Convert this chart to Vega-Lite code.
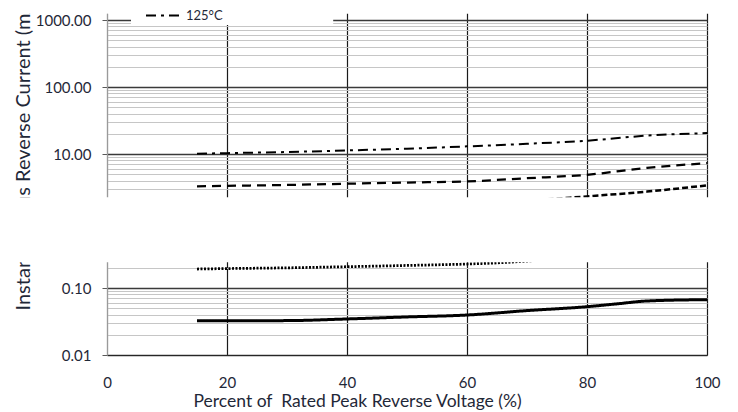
{
  "$schema": "https://vega.github.io/schema/vega-lite/v6.json",
  "width": 600,
  "height": 342,
  "autosize": {"type": "none"},
  "padding": {"left": 107, "top": 13, "right": 31, "bottom": 57},
  "background": "white",
  "config": {"view": {"stroke": null}, "font": "Lato"},
  "datasets": {
    "curves": [
      {"temp": "125°C", "pct": 15, "current": 10.1},
      {"temp": "125°C", "pct": 20, "current": 10.3},
      {"temp": "125°C", "pct": 30, "current": 10.7},
      {"temp": "125°C", "pct": 40, "current": 11.3},
      {"temp": "125°C", "pct": 50, "current": 12.0},
      {"temp": "125°C", "pct": 60, "current": 13.0},
      {"temp": "125°C", "pct": 70, "current": 14.2},
      {"temp": "125°C", "pct": 80, "current": 15.8},
      {"temp": "125°C", "pct": 90, "current": 18.8},
      {"temp": "125°C", "pct": 100, "current": 20.5},
      {"temp": "100°C", "pct": 15, "current": 3.3},
      {"temp": "100°C", "pct": 20, "current": 3.35},
      {"temp": "100°C", "pct": 30, "current": 3.45},
      {"temp": "100°C", "pct": 40, "current": 3.6},
      {"temp": "100°C", "pct": 50, "current": 3.75},
      {"temp": "100°C", "pct": 60, "current": 3.9},
      {"temp": "100°C", "pct": 70, "current": 4.35},
      {"temp": "100°C", "pct": 80, "current": 4.9},
      {"temp": "100°C", "pct": 90, "current": 6.2},
      {"temp": "100°C", "pct": 100, "current": 7.3},
      {"temp": "75°C", "pct": 15, "current": 1.2},
      {"temp": "75°C", "pct": 30, "current": 1.3},
      {"temp": "75°C", "pct": 40, "current": 1.4},
      {"temp": "75°C", "pct": 50, "current": 1.55},
      {"temp": "75°C", "pct": 60, "current": 1.75},
      {"temp": "75°C", "pct": 70, "current": 2.0},
      {"temp": "75°C", "pct": 75, "current": 2.16},
      {"temp": "75°C", "pct": 80, "current": 2.33},
      {"temp": "75°C", "pct": 90, "current": 2.75},
      {"temp": "75°C", "pct": 100, "current": 3.4},
      {"temp": "50°C", "pct": 15, "current": 0.192},
      {"temp": "50°C", "pct": 20, "current": 0.195},
      {"temp": "50°C", "pct": 30, "current": 0.2},
      {"temp": "50°C", "pct": 40, "current": 0.208},
      {"temp": "50°C", "pct": 50, "current": 0.217},
      {"temp": "50°C", "pct": 60, "current": 0.228},
      {"temp": "50°C", "pct": 65, "current": 0.237},
      {"temp": "50°C", "pct": 70, "current": 0.252},
      {"temp": "50°C", "pct": 80, "current": 0.29},
      {"temp": "50°C", "pct": 90, "current": 0.34},
      {"temp": "50°C", "pct": 100, "current": 0.4},
      {"temp": "25°C", "pct": 15, "current": 0.0325},
      {"temp": "25°C", "pct": 20, "current": 0.0325},
      {"temp": "25°C", "pct": 30, "current": 0.0326},
      {"temp": "25°C", "pct": 40, "current": 0.0345},
      {"temp": "25°C", "pct": 50, "current": 0.037},
      {"temp": "25°C", "pct": 60, "current": 0.0395},
      {"temp": "25°C", "pct": 70, "current": 0.046},
      {"temp": "25°C", "pct": 80, "current": 0.0526},
      {"temp": "25°C", "pct": 85, "current": 0.058},
      {"temp": "25°C", "pct": 90, "current": 0.064},
      {"temp": "25°C", "pct": 100, "current": 0.067}
    ]
  },
  "layer": [
    {
      "data": {"name": "curves"},
      "mark": {"type": "line", "color": "black", "strokeCap": "butt", "interpolate": "monotone"},
      "encoding": {
        "x": {
          "field": "pct", "type": "quantitative",
          "scale": {"domain": [0, 100], "nice": false},
          "axis": {
            "values": [0, 20, 40, 60, 80, 100],
            "ticks": false,
            "labelFlush": false,
            "labelFont": "Lato", "labelFontSize": 15, "labelColor": "#1f2838",
            "labelPadding": 20,
            "grid": true,
            "gridColor": {"condition": {"test": "datum.value === 0", "value": "#a6a6a6"}, "value": "#1a1a1a"},
            "gridWidth": 1.2,
            "domainColor": "#262626", "domainWidth": 1.2,
            "title": "Percent of\u00a0 Rated Peak Reverse Voltage (%)",
            "titleFont": "Lato", "titleFontSize": 17.5, "titleFontWeight": "normal", "titleColor": "#1f2838",
            "titleAlign": "left", "titleBaseline": "middle", "titleX": 86, "titleY": 46
          }
        },
        "y": {
          "field": "current", "type": "quantitative",
          "scale": {"type": "log", "domain": [0.01, 1272], "nice": false},
          "axis": {
            "values": [0.01, 0.02, 0.03, 0.04, 0.05, 0.06, 0.07, 0.08, 0.09, 0.1, 0.2, 0.3, 0.4, 0.5, 0.6, 0.7, 0.8, 0.9, 1, 2, 3, 4, 5, 6, 7, 8, 9, 10, 20, 30, 40, 50, 60, 70, 80, 90, 100, 200, 300, 400, 500, 600, 700, 800, 900, 1000],
            "labelExpr": "abs(log(datum.value)/LN10 - round(log(datum.value)/LN10)) < 0.001 ? format(datum.value, '.2f') : ''",
            "labelOverlap": false,
            "labelFont": "Lato", "labelFontSize": 15, "labelColor": "#1f2838",
            "labelPadding": 11,
            "tickSize": 5,
            "tickColor": "#595959",
            "tickOpacity": {"condition": {"test": "abs(log(datum.value)/LN10 - round(log(datum.value)/LN10)) < 0.001", "value": 1}, "value": 0},
            "grid": true,
            "gridColor": {"condition": {"test": "abs(log(datum.value)/LN10 - round(log(datum.value)/LN10)) < 0.001", "value": "#3a3a3a"}, "value": "#c6c6c6"},
            "gridWidth": {"condition": {"test": "abs(log(datum.value)/LN10 - round(log(datum.value)/LN10)) < 0.001", "value": 1.5}, "value": 1},
            "domainColor": "#9a9a9a", "domainWidth": 1.2,
            "title": "Instantaneous Reverse Current (mA)",
            "titleFont": "Lato", "titleFontSize": 20, "titleFontWeight": "normal", "titleColor": "#1f2838",
            "titleAngle": 270, "titleAlign": "left", "titleBaseline": "alphabetic",
            "titleX": -78, "titleY": 297
          }
        },
        "strokeDash": {
          "field": "temp", "type": "nominal",
          "scale": {"domain": ["25°C", "50°C", "75°C", "100°C", "125°C"], "range": [[1, 0], [2, 1.5], [6, 3], [9, 6], [10, 5, 3, 5]]},
          "legend": {
            "values": ["125°C"],
            "orient": "none", "legendX": 38, "legendY": -16,
            "title": null, "padding": 0,
            "symbolType": "stroke", "symbolSize": 1225, "symbolStrokeWidth": 3, "symbolStrokeColor": "black",
            "labelFont": "Lato", "labelFontSize": 13, "labelColor": "#1f2838", "labelOffset": 4
          }
        },
        "strokeWidth": {
          "field": "temp", "type": "nominal",
          "scale": {"domain": ["25°C", "50°C", "75°C", "100°C", "125°C"], "range": [3, 2, 3, 3, 3]},
          "legend": null
        }
      }
    },
    {
      "data": {"values": [{}]},
      "mark": {"type": "rect", "color": "white", "opacity": 1},
      "encoding": {
        "x": {"datum": -18}, "x2": {"datum": 106},
        "y": {"datum": 2.26}, "y2": {"datum": 0.242}
      }
    },
    {
      "data": {"values": [{}]},
      "mark": {"type": "rect", "color": "white", "opacity": 1},
      "encoding": {
        "x": {"datum": 4}, "x2": {"datum": 37.7},
        "y": {"datum": 841}, "y2": {"datum": 1272}
      }
    },
    {
      "data": {"values": [{}]},
      "mark": {"type": "rect", "color": "white", "opacity": 1},
      "encoding": {
        "x": {"datum": -18}, "x2": {"datum": 106},
        "y": {"datum": 1250}, "y2": {"datum": 3000}
      }
    }
  ]
}
